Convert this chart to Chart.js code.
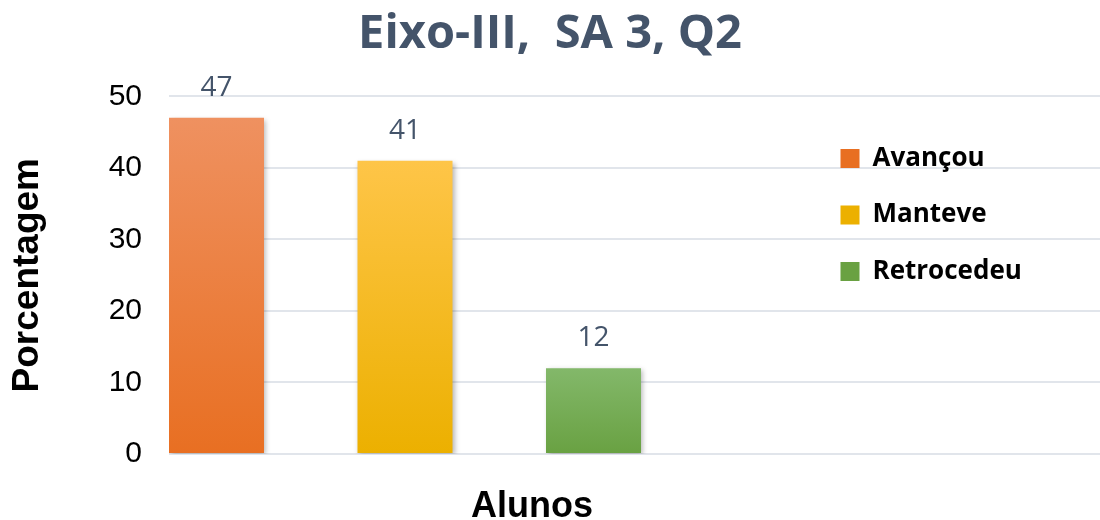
<!DOCTYPE html>
<html>
<head>
<meta charset="utf-8">
<script src="https://cdn.jsdelivr.net/npm/chart.js@4"></script>
<style>
  html, body { margin: 0; padding: 0; background: #fff; }
  #wrap { width: 1100px; height: 520px; }
</style>
</head>
<body>
<div id="wrap"><canvas id="myChart"></canvas></div>
<script>
const categories = ["Avançou", "Manteve", "Retrocedeu"];
const values = [47, 41, 12];
const yTicks = [0, 10, 20, 30, 40, 50];
// top / bottom colours of each bar gradient
const topColors = ["#EF9160", "#FEC548", "#83B86A"];
const bottomColors = ["#E86F22", "#ECB000", "#69A142"];

const titleText = "Eixo-III,  SA 3, Q2";
const xTitle = "Alunos";
const yTitle = "Porcentagem";

const ctx = document.getElementById("myChart");

function barFill(i) {
  return (c) => {
    const chart = c.chart;
    if (!chart.chartArea || !c.raw) return bottomColors[i];
    const y = chart.scales.y;
    const g = chart.ctx.createLinearGradient(0, y.getPixelForValue(c.raw.y), 0, y.getPixelForValue(0));
    g.addColorStop(0, topColors[i]);
    g.addColorStop(1, bottomColors[i]);
    return g;
  };
}

const barExtras = {
  id: "barExtras",
  beforeDatasetsDraw(chart) {
    const c = chart.ctx;
    c.save();
    c.shadowColor = "rgba(0,0,0,0.28)";
    c.shadowBlur = 5;
    c.shadowOffsetX = 2;
    c.shadowOffsetY = 2;
  },
  afterDatasetsDraw(chart) {
    const c = chart.ctx;
    c.restore();
    c.save();
    c.font = "28px 'Open Sans'";
    c.fillStyle = "#44546A";
    c.textAlign = "center";
    c.textBaseline = "middle";
    chart.data.datasets.forEach((ds, i) => {
      chart.getDatasetMeta(i).data.forEach((bar, j) => {
        c.fillText(ds.data[j].y, bar.x, bar.y - 30);
      });
    });
    c.restore();
  },
  afterLayout(chart) {
    // legend sits on top of the plot, at its right side
    chart.legend.left = 810;
    chart.legend.top = 115;
  },
  afterDraw(chart) {
    const c = chart.ctx;
    c.save();
    c.font = "bold 36px 'Liberation Sans'";
    c.fillStyle = "#000";
    c.textAlign = "center";
    c.textBaseline = "alphabetic";
    c.fillText(xTitle, 532, 517);
    c.restore();
  }
};

let chart = new Chart(ctx, {
  type: "bar",
  data: {
    datasets: categories.map((name, i) => ({
      label: name,
      data: [{ x: i + 1, y: values[i] }],
      backgroundColor: barFill(i),
      borderWidth: 0,
    })),
  },
  plugins: [barExtras],
  options: {
    responsive: true,
    maintainAspectRatio: false,
    animation: false,
    grouped: false,
    categoryPercentage: 1,
    barPercentage: 0.504,
    layout: { padding: { left: 0, right: 0, top: 0, bottom: 66 } },
    plugins: {
      title: {
        display: true,
        text: titleText,
        color: "#44546A",
        font: { family: "'Open Sans'", size: 47, weight: "bold", lineHeight: 1.2 },
        padding: { top: 6, bottom: 34 },
      },
      legend: {
        position: "chartArea",
        align: "start",
        labels: {
          boxWidth: 19,
          boxHeight: 19,
          padding: 30.5,
          color: "#000",
          font: { family: "'Open Sans'", size: 26, weight: "bold" },
          generateLabels(chart) {
            return categories.map((name, i) => ({
              text: name,
              fillStyle: bottomColors[i],
              strokeStyle: bottomColors[i],
              lineWidth: 0,
              datasetIndex: i,
            }));
          },
        },
      },
      tooltip: { enabled: false },
    },
    scales: {
      x: {
        type: "linear",
        offset: false,
        min: 0.748,
        max: 5.687,
        afterBuildTicks(scale) {
          scale.ticks = scale.ticks.filter((t) => Number.isInteger(t.value));
        },
        ticks: { display: false, stepSize: 1 },
        grid: { display: false, drawTicks: false },
        border: { display: false },
      },
      y: {
        min: 0,
        max: 50,
        afterFit(scale) { scale.width = 169; },
        afterBuildTicks(scale) {
          scale.ticks = yTicks.map((v) => ({ value: v }));
        },
        ticks: {
          padding: 27,
          color: "#000",
          font: { family: "'Liberation Sans'", size: 30 },
        },
        grid: { color: "#E1E5EB", lineWidth: 2, drawTicks: false },
        border: { display: false },
        title: {
          display: true,
          text: yTitle,
          color: "#000",
          font: { family: "'Liberation Sans'", size: 37, weight: "bold", lineHeight: 1 },
          padding: { top: 9, bottom: 0 },
        },
      },
    },
  },
});
</script>
</body>
</html>
